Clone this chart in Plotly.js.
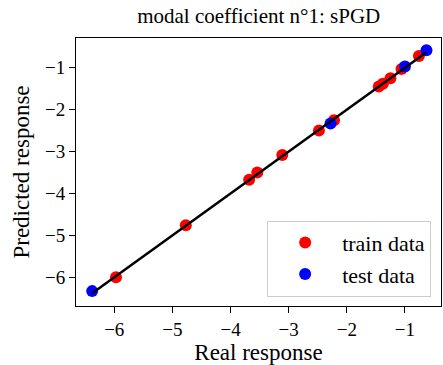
<!DOCTYPE html>
<html>
<head>
<meta charset="utf-8">
<script src="https://cdn.plot.ly/plotly-3.0.1.min.js"></script>
<style>html,body{margin:0;padding:0;background:#fff;}#chart{width:443px;height:365px;}</style>
</head>
<body>
<div id="chart"></div>
<script>
const trainReal = [-5.97, -4.77, -3.68, -3.54, -3.11, -2.48, -2.22, -1.45, -1.38, -1.25, -1.06, -0.76];
const trainPred = [-6.00, -4.76, -3.67, -3.50, -3.08, -2.50, -2.25, -1.45, -1.38, -1.25, -1.03, -0.72];
const testReal = [-6.38, -2.28, -1.00, -0.63];
const testPred = [-6.33, -2.33, -0.97, -0.58];
const allReal = trainReal.concat(testReal);
const lineX = [Math.min.apply(null, allReal), Math.max.apply(null, allReal)];
const lineY = lineX.slice();

const font = '"Liberation Serif", "Times New Roman", Times, serif';
const traces = [
  {x: trainReal, y: trainPred, mode: 'markers', type: 'scatter', name: 'train data',
   marker: {color: '#ff0000', size: 12}},
  {x: testReal, y: testPred, mode: 'markers', type: 'scatter', name: 'test data',
   marker: {color: '#0000ff', size: 12}},
  {x: lineX, y: lineY, mode: 'lines', type: 'scatter', showlegend: false,
   line: {color: '#000000', width: 2.5}}
];
const axisCommon = {
  showline: true, mirror: true, linecolor: '#000', linewidth: 1,
  ticks: 'outside', ticklen: 6, tickcolor: '#000', tickwidth: 1,
  showgrid: false, zeroline: false, dtick: 1,
  tickfont: {family: font, size: 19, color: '#000'}
};
const layout = {
  width: 443, height: 365,
  margin: {l: 76, r: 2, t: 38, b: 59},
  paper_bgcolor: '#fff', plot_bgcolor: '#fff',
  font: {family: font, color: '#000'},
  title: {text: 'modal coefficient n°1: sPGD', font: {family: font, size: 21, color: '#000'},
          x: 0.584, xanchor: 'center', y: 0.958, yanchor: 'middle'},
  xaxis: Object.assign({}, axisCommon, {range: [-6.658, -0.38],
    title: {text: 'Real response', font: {family: font, size: 23, color: '#000'}, standoff: 8}}),
  yaxis: Object.assign({}, axisCommon, {range: [-6.685, -0.29],
    title: {text: 'Predicted response', font: {family: font, size: 23, color: '#000'}, standoff: 8}}),
  legend: {x: 0.973, y: 0.035, xanchor: 'right', yanchor: 'bottom',
    bordercolor: '#cccccc', borderwidth: 1, bgcolor: 'rgba(255,255,255,0.8)',
    font: {family: font, size: 22, color: '#000'}, itemwidth: 64, tracegroupgap: 0}
};
Plotly.newPlot('chart', traces, layout, {displayModeBar: false, staticPlot: true});
</script>
</body>
</html>
